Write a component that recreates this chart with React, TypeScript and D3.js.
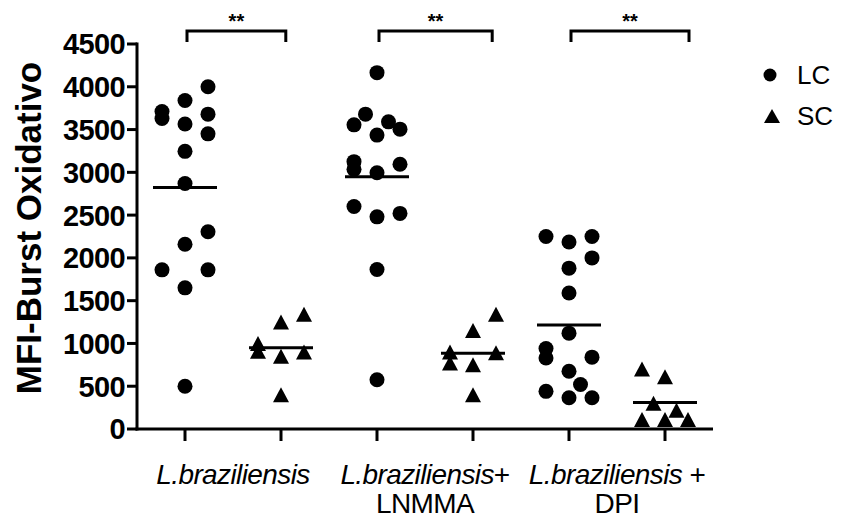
import React from 'react';
import * as d3 from 'd3';

// ---------- data ----------
const groupLabels: string[][][] = [
  [['L.braziliensis', 'i']],
  [['L.braziliensis', 'i'], ['+', 'n'], ['|LNMMA', 'n']],
  [['L.braziliensis', 'i'], [' +', 'n'], ['|DPI', 'n']],
];
const seriesNames = ['LC', 'SC'];

const lcValues = [
  [4000, 3840, 3710, 3630, 3680, 3565, 3450, 3245, 2870, 2305, 2160, 1860, 1860, 1650, 500],
  [4165, 3680, 3555, 3590, 3435, 3505, 3125, 3035, 2995, 3095, 2600, 2480, 2520, 1865, 575],
  [2250, 2185, 2250, 2000, 1880, 1590, 1120, 940, 830, 840, 675, 520, 440, 365, 365],
];
// scatter column of each point (-2..2)
const lcLanes = [
  [2, 0, -2, -2, 2, 0, 2, 0, 0, 2, 0, -2, 2, 0, 0],
  [0, -1, -2, 1, 0, 2, -2, -2, 0, 2, -2, 0, 2, 0, 0],
  [-2, 0, 2, 2, 0, 0, 0, -2, -2, 2, 0, 1, -2, 0, 2],
];
const scValues = [
  [1340, 1250, 1000, 910, 850, 900, 400],
  [1340, 1150, 900, 770, 890, 750, 400],
  [700, 610, 300, 220, 110, 110, 110],
];
const scLanes = [
  [2, 0, -2, -2, 0, 2, 0],
  [2, 0, -2, -2, 2, 0, 0],
  [-2, 0, -1, 1, -2, 0, 2],
];
const yTicks = [0, 500, 1000, 1500, 2000, 2500, 3000, 3500, 4000, 4500];
// significance brackets in slot units (LC slot = 2g, SC slot = 2g+1)
const brackets = [
  { from: 0, to: 1.05, label: '**' },
  { from: 2, to: 3.2, label: '**' },
  { from: 4, to: 5.25, label: '**' },
];

// ---------- layout ----------
const W = 862;
const H = 518;
const left = 137;
const right = 713;
const top = 44;
const bottom = 429;
const FONT = 'Liberation Sans, Arial, Helvetica, sans-serif';

const x = d3.scaleLinear().domain([-0.5, 5.5]).range([left, right]);
const lane = d3.scaleLinear().domain([-2, 2]).range([-23, 23]);
const y = d3.scaleLinear().domain([0, 4500]).range([bottom, top]);

function trianglePath(cx: number, cy: number, w: number, h: number) {
  const p = d3.path();
  p.moveTo(cx, cy - h / 2);
  p.lineTo(cx + w / 2, cy + h / 2);
  p.lineTo(cx - w / 2, cy + h / 2);
  p.closePath();
  return p.toString();
}

export default function App() {
  const R = 7.5;
  const TW = 16;
  const TH = 15;
  const meanHalf = 32;

  return (
    <svg width={W} height={H} style={{ display: 'block', position: 'absolute', left: 0, top: 0 }}
      fontFamily={FONT}>
      <rect x={0} y={0} width={W} height={H} fill="#fff" />
      {/* y axis */}
      <line x1={left} x2={left} y1={top - 1.5} y2={bottom + 1.5} stroke="#000" strokeWidth={3} />
      {yTicks.map((t) => (
        <g key={t}>
          <line x1={left - 10} x2={left} y1={y(t)} y2={y(t)} stroke="#000" strokeWidth={3} />
          <text x={left - 12} y={y(t)} dy="0.36em" textAnchor="end" fontSize={29} fontWeight="bold"
            letterSpacing={-0.6}>
            {t}
          </text>
        </g>
      ))}
      <text transform={`translate(41,228) rotate(-90)`} textAnchor="middle"
        fontSize={35} fontWeight="bold">MFI-Burst Oxidativo</text>

      {/* x axis */}
      <line x1={left - 1.5} x2={right} y1={bottom} y2={bottom} stroke="#000" strokeWidth={3} />
      {d3.range(6).map((i) => (
        <line key={i} x1={x(i)} x2={x(i)} y1={bottom} y2={bottom + 12} stroke="#000" strokeWidth={3} />
      ))}
      {groupLabels.map((parts, g) => {
        const cx = (x(2 * g) + x(2 * g + 1)) / 2;
        const line1 = parts.filter((p) => !p[0].startsWith('|'));
        const line2 = parts.filter((p) => p[0].startsWith('|'));
        return (
          <g key={g}>
            <text x={cx} y={484} textAnchor="middle" fontSize={28} letterSpacing={-0.6}>
              {line1.map((p, k) => (
                <tspan key={k} fontStyle={p[1] === 'i' ? 'italic' : 'normal'}>{p[0]}</tspan>
              ))}
            </text>
            {line2.map((p, k) => (
              <text key={k} x={cx} y={513} textAnchor="middle" fontSize={28} letterSpacing={-0.6}>
                {p[0].slice(1)}
              </text>
            ))}
          </g>
        );
      })}

      {/* LC points */}
      {lcValues.map((vals, g) => (
        <g key={'lc' + g}>
          {vals.map((v, i) => (
            <circle key={i} cx={x(2 * g) + lane(lcLanes[g][i])} cy={y(v)} r={R} fill="#000" />
          ))}
          <line x1={x(2 * g) - meanHalf} x2={x(2 * g) + meanHalf} y1={y(d3.mean(vals)!)} y2={y(d3.mean(vals)!)}
            stroke="#000" strokeWidth={3} />
        </g>
      ))}
      {/* SC points */}
      {scValues.map((vals, g) => (
        <g key={'sc' + g}>
          {vals.map((v, i) => (
            <path key={i} d={trianglePath(x(2 * g + 1) + lane(scLanes[g][i]), y(v), TW, TH)} fill="#000" />
          ))}
          <line x1={x(2 * g + 1) - meanHalf} x2={x(2 * g + 1) + meanHalf} y1={y(d3.mean(vals)!)} y2={y(d3.mean(vals)!)}
            stroke="#000" strokeWidth={3} />
        </g>
      ))}

      {/* significance brackets */}
      {brackets.map((b, i) => {
        const x1 = x(b.from) + 2;
        const x2 = x(b.to);
        return (
          <g key={i}>
            <path d={`M${x1},42 V31 H${x2} V42`} fill="none" stroke="#000" strokeWidth={3} />
            <text x={(x1 + x2) / 2} y={28} textAnchor="middle" fontSize={20} fontWeight="bold">{b.label}</text>
          </g>
        );
      })}

      {/* legend */}
      <circle cx={770} cy={75} r={6.5} fill="#000" />
      <text x={797} y={84} fontSize={26}>{seriesNames[0]}</text>
      <path d={trianglePath(772, 116, 16, 14)} fill="#000" />
      <text x={797} y={125} fontSize={26}>{seriesNames[1]}</text>
    </svg>
  );
}
